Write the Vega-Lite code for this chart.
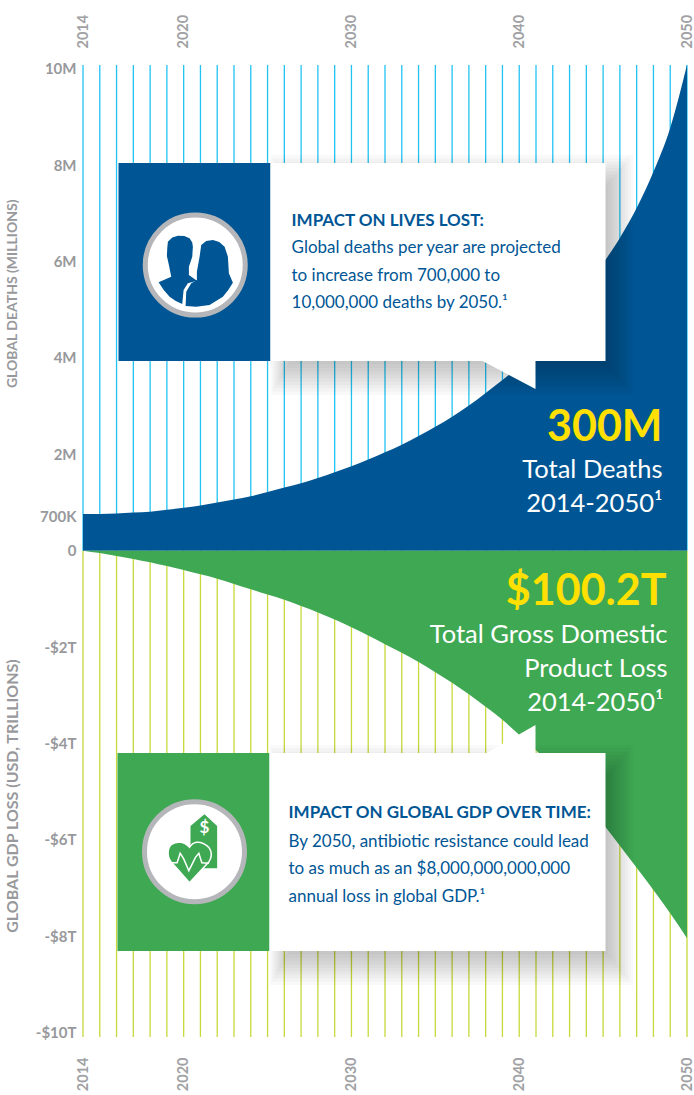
{
"$schema":"https://vega.github.io/schema/vega-lite/v6.json",
"width":604,"height":972,
"autosize":{"type":"none"},
"padding":{"left":83,"top":65,"right":7,"bottom":58},
"background":"#ffffff",
"config":{"view":{"stroke":null},"text":{"font":"Lato"}},
"datasets":{
"curves":[
{"year":2014,"deaths":0.76,"gdp":0},{"year":2015,"deaths":0.76,"gdp":-0.05},{"year":2016,"deaths":0.77,"gdp":-0.11},{"year":2017,"deaths":0.79,"gdp":-0.17},{"year":2018,"deaths":0.81,"gdp":-0.24},{"year":2019,"deaths":0.85,"gdp":-0.32},{"year":2020,"deaths":0.89,"gdp":-0.40},{"year":2021,"deaths":0.94,"gdp":-0.49},{"year":2022,"deaths":1.00,"gdp":-0.58},{"year":2023,"deaths":1.06,"gdp":-0.69},{"year":2024,"deaths":1.13,"gdp":-0.80},{"year":2025,"deaths":1.22,"gdp":-0.91},{"year":2026,"deaths":1.31,"gdp":-1.02},{"year":2027,"deaths":1.40,"gdp":-1.15},{"year":2028,"deaths":1.51,"gdp":-1.28},{"year":2029,"deaths":1.63,"gdp":-1.43},{"year":2030,"deaths":1.75,"gdp":-1.59},{"year":2031,"deaths":1.89,"gdp":-1.76},{"year":2032,"deaths":2.04,"gdp":-1.94},{"year":2033,"deaths":2.20,"gdp":-2.12},{"year":2034,"deaths":2.38,"gdp":-2.31},{"year":2035,"deaths":2.57,"gdp":-2.52},{"year":2036,"deaths":2.78,"gdp":-2.74},{"year":2037,"deaths":3.01,"gdp":-2.98},{"year":2038,"deaths":3.27,"gdp":-3.24},{"year":2039,"deaths":3.54,"gdp":-3.51},{"year":2040,"deaths":3.83,"gdp":-3.82},{"year":2041,"deaths":4.16,"gdp":-4.14},{"year":2042,"deaths":4.54,"gdp":-4.49},{"year":2043,"deaths":4.95,"gdp":-4.84},{"year":2044,"deaths":5.43,"gdp":-5.24},{"year":2045,"deaths":5.96,"gdp":-5.67},{"year":2046,"deaths":6.49,"gdp":-6.12},{"year":2047,"deaths":7.11,"gdp":-6.58},{"year":2048,"deaths":7.86,"gdp":-7.04},{"year":2049,"deaths":8.77,"gdp":-7.52},{"year":2050,"deaths":10.08,"gdp":-8.04}
],
"grid":[
{"year":2014,"value":0,"top":10.077,"bottom":-10.09},{"year":2015,"value":0,"top":10.077,"bottom":-10.09},{"year":2016,"value":0,"top":10.077,"bottom":-10.09},{"year":2017,"value":0,"top":10.077,"bottom":-10.09},{"year":2018,"value":0,"top":10.077,"bottom":-10.09},{"year":2019,"value":0,"top":10.077,"bottom":-10.09},{"year":2020,"value":0,"top":10.077,"bottom":-10.09},{"year":2021,"value":0,"top":10.077,"bottom":-10.09},{"year":2022,"value":0,"top":10.077,"bottom":-10.09},{"year":2023,"value":0,"top":10.077,"bottom":-10.09},{"year":2024,"value":0,"top":10.077,"bottom":-10.09},{"year":2025,"value":0,"top":10.077,"bottom":-10.09},{"year":2026,"value":0,"top":10.077,"bottom":-10.09},{"year":2027,"value":0,"top":10.077,"bottom":-10.09},{"year":2028,"value":0,"top":10.077,"bottom":-10.09},{"year":2029,"value":0,"top":10.077,"bottom":-10.09},{"year":2030,"value":0,"top":10.077,"bottom":-10.09},{"year":2031,"value":0,"top":10.077,"bottom":-10.09},{"year":2032,"value":0,"top":10.077,"bottom":-10.09},{"year":2033,"value":0,"top":10.077,"bottom":-10.09},{"year":2034,"value":0,"top":10.077,"bottom":-10.09},{"year":2035,"value":0,"top":10.077,"bottom":-10.09},{"year":2036,"value":0,"top":10.077,"bottom":-10.09},{"year":2037,"value":0,"top":10.077,"bottom":-10.09},{"year":2038,"value":0,"top":10.077,"bottom":-10.09},{"year":2039,"value":0,"top":10.077,"bottom":-10.09},{"year":2040,"value":0,"top":10.077,"bottom":-10.09},{"year":2041,"value":0,"top":10.077,"bottom":-10.09},{"year":2042,"value":0,"top":10.077,"bottom":-10.09},{"year":2043,"value":0,"top":10.077,"bottom":-10.09},{"year":2044,"value":0,"top":10.077,"bottom":-10.09},{"year":2045,"value":0,"top":10.077,"bottom":-10.09},{"year":2046,"value":0,"top":10.077,"bottom":-10.09},{"year":2047,"value":0,"top":10.077,"bottom":-10.09},{"year":2048,"value":0,"top":10.077,"bottom":-10.09},{"year":2049,"value":0,"top":10.077,"bottom":-10.09},{"year":2050,"value":0,"top":10.077,"bottom":-10.09}
],
"shadows":[
{"year":2026.25,"year2":2045.31,"value":7.59,"value2":3.87},{"year":2026.13,"year2":2045.48,"value":7.66,"value2":3.79},{"year":2026.01,"year2":2045.64,"value":7.73,"value2":3.72},{"year":2025.89,"year2":2045.81,"value":7.80,"value2":3.65},{"year":2025.77,"year2":2045.98,"value":7.87,"value2":3.58},{"year":2025.65,"year2":2046.14,"value":7.94,"value2":3.51},{"year":2025.53,"year2":2046.31,"value":8.00,"value2":3.44},{"year":2025.42,"year2":2046.48,"value":8.07,"value2":3.37},{"year":2025.30,"year2":2046.64,"value":8.14,"value2":3.30},{"year":2025.18,"year2":2046.81,"value":8.21,"value2":3.23},
{"year":2026.19,"year2":2045.31,"value":-4.65,"value2":-8.38},{"year":2026.07,"year2":2045.48,"value":-4.58,"value2":-8.45},{"year":2025.95,"year2":2045.64,"value":-4.51,"value2":-8.52},{"year":2025.83,"year2":2045.81,"value":-4.44,"value2":-8.59},{"year":2025.71,"year2":2045.98,"value":-4.37,"value2":-8.66},{"year":2025.59,"year2":2046.14,"value":-4.30,"value2":-8.73},{"year":2025.47,"year2":2046.31,"value":-4.24,"value2":-8.80},{"year":2025.36,"year2":2046.48,"value":-4.17,"value2":-8.87},{"year":2025.24,"year2":2046.64,"value":-4.10,"value2":-8.94},{"year":2025.12,"year2":2046.81,"value":-4.03,"value2":-9.01}
]
},
"encoding":{
"x":{"field":"year","type":"quantitative","scale":{"domain":[2014,2050],"nice":false,"zero":false},"axis":null},
"y":{"field":"value","type":"quantitative","scale":{"domain":[-10.09,10.077],"nice":false,"zero":false},"axis":null}
},
"resolve":{"axis":{"x":"independent","y":"independent"}},
"layer":[
{"data":{"name":"grid"},"mark":{"type":"rule","color":"#22c3f3","strokeWidth":1.3},
 "encoding":{"x":{"field":"year","type":"quantitative","axis":{"orient":"top","values":[2014,2020,2030,2040,2050],"format":"d","domain":false,"ticks":false,"grid":false,"labelAngle":270,"labelAlign":"left","labelBaseline":"middle","labelPadding":17,"labelFont":"Lato","labelFontWeight":"bold","labelFontSize":14.5,"labelColor":"#a0a1a4","title":null}},
 "y":{"field":"value","type":"quantitative","axis":{"orient":"left","values":[10,8,6,4,2,0.7,0,-2,-4,-6,-8,-10],"labelExpr":"datum.value>=1?datum.value+'M':datum.value==0.7?'700K':datum.value==0?'0':'-$'+abs(datum.value)+'T'","domain":false,"ticks":false,"grid":false,"labelPadding":7,"labelFont":"Lato","labelFontWeight":"bold","labelFontSize":15,"labelColor":"#98999c","labelOverlap":false,"labelBound":false,"labelFlush":false,"title":null}},"y2":{"field":"top"}}},
{"data":{"name":"grid"},"mark":{"type":"rule","color":"#c8d93c","strokeWidth":1.3},
 "encoding":{"x":{"field":"year","type":"quantitative","axis":{"orient":"bottom","values":[2014,2020,2030,2040,2050],"format":"d","domain":false,"ticks":false,"grid":false,"labelAngle":270,"labelAlign":"right","labelBaseline":"middle","labelPadding":20,"labelFont":"Lato","labelFontWeight":"bold","labelFontSize":14.5,"labelColor":"#a0a1a4","title":null}},
 "y2":{"field":"bottom"}}},
{"data":{"name":"curves"},"mark":{"type":"area","color":"#005695","interpolate":"monotone"},"encoding":{"y":{"field":"deaths","type":"quantitative","axis":null},"y2":{"datum":0}}},
{"data":{"name":"curves"},"mark":{"type":"area","color":"#3fa853","interpolate":"monotone"},"encoding":{"y":{"field":"gdp","type":"quantitative","axis":null},"y2":{"datum":0}}},
{"data":{"name":"shadows"},"mark":{"type":"rect","color":"#000000","opacity":0.022},"encoding":{"x2":{"field":"year2"},"y2":{"field":"value2"}}},
{"data":{"values":[{"year":2016.116,"year2":2025.175,"value":8.044,"value2":3.936}]},"mark":{"type":"rect","color":"#005695"},"encoding":{"x2":{"field":"year2"},"y2":{"field":"value2"}}},
{"data":{"values":[{"year":2016.056,"year2":2025.116,"value":-4.197,"value2":-8.305}]},"mark":{"type":"rect","color":"#3fa853"},"encoding":{"x2":{"field":"year2"},"y2":{"field":"value2"}}},
{"data":{"values":[{"year":2025.175,"year2":2045.142,"value":8.044,"value2":3.936},{"year":2025.116,"year2":2045.142,"value":-4.197,"value2":-8.305}]},"mark":{"type":"rect","color":"#ffffff"},"encoding":{"x2":{"field":"year2"},"y2":{"field":"value2"}}},
{"data":{"values":[{"year":2037.81,"value":3.936,"value2":3.936},{"year":2040.97,"value":3.355,"value2":3.936}]},"mark":{"type":"area","color":"#ffffff"},"encoding":{"y2":{"field":"value2"}}},
{"data":{"values":[{"year":2038.05,"value":-4.197,"value2":-4.197},{"year":2040.97,"value":-3.616,"value2":-4.197}]},"mark":{"type":"area","color":"#ffffff"},"encoding":{"y2":{"field":"value2"}}},
{"data":{"values":[{"year":2020.69,"value":5.927},{"year":2020.645,"value":-6.245}]},"mark":{"type":"point","shape":"circle","size":10000,"filled":true,"fill":"#ffffff","stroke":"#b5b6b9","strokeWidth":5,"opacity":1}},
{"data":{"values":[{"year":2020.69,"value":5.927}]},"mark":{"type":"point","size":10000,"filled":true,"fill":"#005695","opacity":1,"shape":"M-.733 .347L-.48 .233L-.527 0L-.567 -.18L-.56 -.33L-.547 -.467L-.46 -.55L-.347 -.587L-.22 -.58L-.113 -.533L-.06 -.45L-.047 -.367L-.06 -.167L-.127 .033L-.127 .2L.033 .313L-.147 .367L-.233 .5L-.26 .78L-.39 .72L-.513 .633L-.63 .5Z"}},
{"data":{"values":[{"year":2020.69,"value":5.927}]},"mark":{"type":"point","size":10000,"filled":true,"fill":"#005695","opacity":1,"shape":"M-.193 .82L-.18 .533L-.08 .367L.033 .3L.033 .133L.087 -.167L.12 -.4L.22 -.48L.353 -.5L.48 -.46L.587 -.367L.653 -.167L.673 .167L.753 .353L.66 .5L.553 .633L.287 .8L.02 .833Z"}},
{"data":{"values":[{"year":2020.645,"value":-6.245}]},"mark":{"type":"point","size":10000,"filled":true,"fill":"#3fa853","opacity":1,"shape":"M-.08 -.513L.2 -.747L.453 -.513L.453 .333L-.08 .333Z"}},
{"data":{"values":[{"year":2020.645,"value":-6.245}]},"mark":{"type":"point","size":10000,"filled":true,"fill":"#3fa853","stroke":"#ffffff","strokeWidth":1.5,"opacity":1,"shape":"M-.1 -.087C-.03 -.2 .1 -.22 .2 -.15C.33 -.08 .38 .05 .29 .2L-.1 .62L-.47 .2C-.55 .1 -.55 -.08 -.45 -.15C-.35 -.22 -.2 -.2 -.1 -.087Z"}},
{"data":{"values":[{"year":2020.645,"value":-6.245}]},"mark":{"type":"point","size":10000,"filled":false,"stroke":"#ffffff","strokeWidth":1.5,"opacity":1,"shape":"M-.467 .22L-.347 .22L-.287 .033L-.22 .133L-.113 .38L.02 .113L.087 .033L.147 .22L.287 .233"}},
{"data":{"values":[{"label":"$","year":2021.24,"value":-5.75}]},"mark":{"type":"text","fontSize":17,"fontWeight":"bold","color":"#ffffff","font":"Lato"},"encoding":{"text":{"field":"label"}}},
{"data":{"values":[{"label":"IMPACT ON LIVES LOST:","year":2026.43,"value":6.84},{"label":"IMPACT ON GLOBAL GDP OVER TIME:","year":2026.25,"value":-5.44}]},"mark":{"type":"text","align":"left","baseline":"middle","fontSize":17,"fontWeight":"bold","color":"#005695","font":"Lato"},"encoding":{"text":{"field":"label"}}},
{"data":{"values":[{"label":"Global deaths per year are projected","year":2026.43,"value":6.28},{"label":"to increase from 700,000 to","year":2026.43,"value":5.70},{"label":"10,000,000 deaths by 2050.¹","year":2026.43,"value":5.14},{"label":"By 2050, antibiotic resistance could lead","year":2026.25,"value":-6.04},{"label":"to as much as an $8,000,000,000,000","year":2026.25,"value":-6.60},{"label":"annual loss in global GDP.¹","year":2026.25,"value":-7.18}]},"mark":{"type":"text","align":"left","baseline":"middle","fontSize":17,"color":"#005695","font":"Lato"},"encoding":{"text":{"field":"label"}}},
{"data":{"values":[{"label":"300M","year":2048.54,"value":2.55},{"label":"$100.2T","year":2048.78,"value":-0.86}]},"mark":{"type":"text","align":"right","baseline":"middle","fontSize":43,"fontWeight":"bold","color":"#ffe000","font":"Lato"},"encoding":{"text":{"field":"label"}}},
{"data":{"values":[{"label":"Total Deaths","year":2048.54,"value":1.67},{"label":"2014-2050¹","year":2048.54,"value":0.97},{"label":"Total Gross Domestic","year":2048.84,"value":-1.75},{"label":"Product Loss","year":2048.84,"value":-2.45},{"label":"2014-2050¹","year":2048.6,"value":-3.16}]},"mark":{"type":"text","align":"right","baseline":"middle","fontSize":25.5,"color":"#ffffff","font":"Lato"},"encoding":{"text":{"field":"label"}}},
{"data":{"values":[{"label":"GLOBAL DEATHS (MILLIONS)","year":2009.83,"value":5.33}]},"mark":{"type":"text","angle":270,"align":"center","baseline":"middle","fontSize":14,"fontWeight":"bold","color":"#98999c","font":"Lato"},"encoding":{"text":{"field":"label"}}},
{"data":{"values":[{"label":"GLOBAL GDP LOSS (USD, TRILLIONS)","year":2009.83,"value":-5.09}]},"mark":{"type":"text","angle":270,"align":"center","baseline":"middle","fontSize":16,"fontWeight":"bold","color":"#98999c","font":"Lato"},"encoding":{"text":{"field":"label"}}}
]
}
